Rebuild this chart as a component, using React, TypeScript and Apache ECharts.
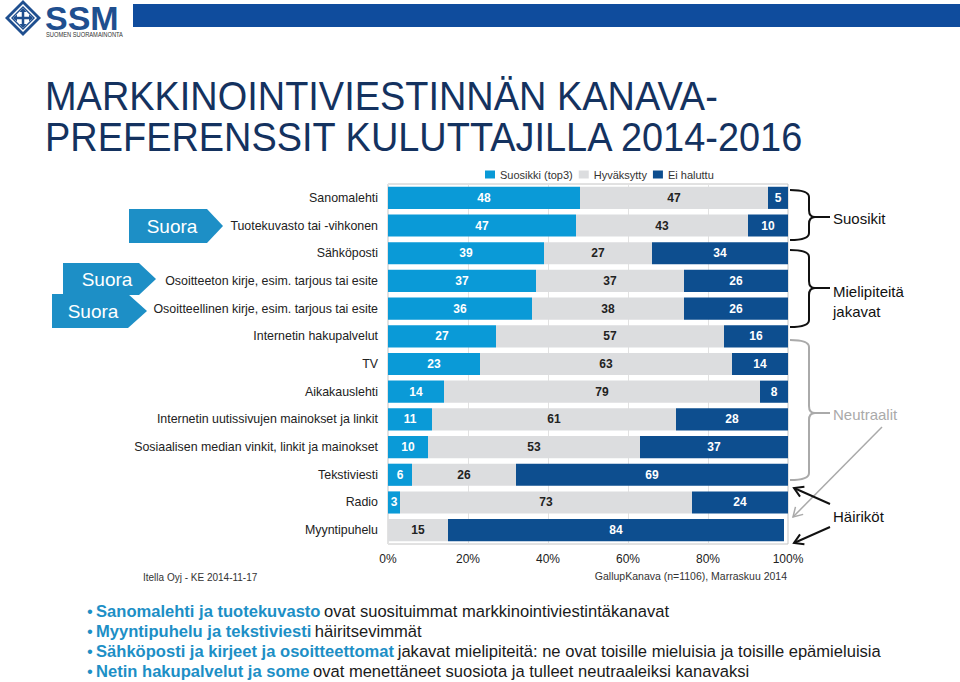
import React, { useEffect, useRef } from "react";
import * as echarts from "echarts";

const categories = [
  "Sanomalehti",
  "Tuotekuvasto tai -vihkonen",
  "Sähköposti",
  "Osoitteeton kirje, esim. tarjous tai esite",
  "Osoitteellinen kirje, esim. tarjous tai esite",
  "Internetin hakupalvelut",
  "TV",
  "Aikakauslehti",
  "Internetin uutissivujen mainokset ja linkit",
  "Sosiaalisen median vinkit, linkit ja mainokset",
  "Tekstiviesti",
  "Radio",
  "Myyntipuhelu",
];
const seriesNames = ["Suosikki (top3)", "Hyväksytty", "Ei haluttu"];
const suosikki = [48, 47, 39, 37, 36, 27, 23, 14, 11, 10, 6, 3, 0];
const hyvaksytty = [47, 43, 27, 37, 38, 57, 63, 79, 61, 53, 26, 73, 15];
const eiHaluttu = [5, 10, 34, 26, 26, 16, 14, 8, 28, 37, 69, 24, 84];
const xTicks = [0, 20, 40, 60, 80, 100];

const titleLines = ["MARKKINOINTIVIESTINNÄN KANAVA-", "PREFERENSSIT KULUTTAJILLA 2014-2016"];
const bullets = [
  ["Sanomalehti ja tuotekuvasto", "ovat suosituimmat markkinointiviestintäkanavat"],
  ["Myyntipuhelu ja tekstiviesti", "häiritsevimmät"],
  ["Sähköposti ja kirjeet ja osoitteettomat", "jakavat mielipiteitä: ne ovat toisille mieluisia ja toisille epämieluisia"],
  ["Netin hakupalvelut ja some", "ovat menettäneet suosiota ja tulleet neutraaleiksi kanavaksi"],
];

const FONT = "'Liberation Sans', Arial, sans-serif";
const C_FAV = "#0a9ad7";
const C_OK = "#dcdddf";
const C_NO = "#0d4e8f";
const C_SUORA = "#1d8fc6";
const C_LOGO = "#1f4f8f";

function brace(x0: number, xm: number, yTop: number, yMid: number, yBot: number, xEnd: number, color: string) {
  const s = { stroke: color, lineWidth: 2, fill: "none" };
  const r = 7;
  return [
    { type: "bezierCurve", shape: { x1: x0, y1: yTop, x2: xm, y2: yTop + r, cpx1: xm, cpy1: yTop }, style: s },
    { type: "line", shape: { x1: xm, y1: yTop + r, x2: xm, y2: yMid - r }, style: s },
    { type: "bezierCurve", shape: { x1: xm, y1: yMid - r, x2: xm + 6, y2: yMid, cpx1: xm, cpy1: yMid }, style: s },
    { type: "bezierCurve", shape: { x1: xm + 6, y1: yMid, x2: xm, y2: yMid + r, cpx1: xm, cpy1: yMid }, style: s },
    { type: "line", shape: { x1: xm, y1: yMid + r, x2: xm, y2: yBot - r }, style: s },
    { type: "bezierCurve", shape: { x1: xm, y1: yBot - r, x2: x0, y2: yBot, cpx1: xm, cpy1: yBot }, style: s },
    { type: "line", shape: { x1: xm + 6, y1: yMid, x2: xEnd, y2: yMid }, style: s },
  ];
}

function arrow(x1: number, y1: number, x2: number, y2: number, color: string, w: number) {
  const dx = x2 - x1, dy = y2 - y1;
  const len = Math.sqrt(dx * dx + dy * dy);
  const ux = dx / len, uy = dy / len;
  const px = -uy, py = ux;
  const s = 9;
  return [
    { type: "line", shape: { x1, y1, x2, y2 }, style: { stroke: color, lineWidth: w } },
    {
      type: "polyline",
      shape: {
        points: [
          [x2 - s * ux + s * 0.6 * px, y2 - s * uy + s * 0.6 * py],
          [x2, y2],
          [x2 - s * ux - s * 0.6 * px, y2 - s * uy - s * 0.6 * py],
        ],
      },
      style: { stroke: color, lineWidth: w, fill: "none" },
    },
  ];
}

function suora(xl: number, xf: number, xt: number, yt: number, yb: number, tx: number) {
  const ym = (yt + yb) / 2;
  return [
    {
      type: "polygon",
      shape: { points: [[xl, yt], [xf, yt], [xt, ym], [xf, yb], [xl, yb]] },
      style: { fill: C_SUORA },
    },
    {
      type: "text",
      x: tx,
      y: ym,
      style: { text: "Suora", fill: "#fff", font: `19px ${FONT}`, align: "center", verticalAlign: "middle" },
    },
  ];
}

function logo() {
  const cx = 23, cy = 18, R = 18;
  const dia = (r: number) => [[cx, cy - r], [cx + r, cy], [cx, cy + r], [cx - r, cy]];
  const els: any[] = [
    { type: "polygon", shape: { points: dia(R) }, style: { fill: C_LOGO } },
    { type: "polygon", shape: { points: dia(R - 4) }, style: { fill: "#fff" } },
    { type: "polygon", shape: { points: dia(R - 6) }, style: { fill: C_LOGO } },
    { type: "polygon", shape: { points: dia(R - 8) }, style: { fill: "#fff" } },
    { type: "line", shape: { x1: cx, y1: cy - 9, x2: cx, y2: cy + 9 }, style: { stroke: C_LOGO, lineWidth: 2.5 } },
    { type: "line", shape: { x1: cx - 9, y1: cy, x2: cx + 9, y2: cy }, style: { stroke: C_LOGO, lineWidth: 2.5 } },
    { type: "polygon", shape: { points: [[cx, cy - 10], [cx - 3.5, cy - 6], [cx + 3.5, cy - 6]] }, style: { fill: C_LOGO } },
    { type: "polygon", shape: { points: [[cx, cy + 10], [cx - 3.5, cy + 6], [cx + 3.5, cy + 6]] }, style: { fill: C_LOGO } },
    { type: "polygon", shape: { points: [[cx - 10, cy], [cx - 6, cy - 3.5], [cx - 6, cy + 3.5]] }, style: { fill: C_LOGO } },
    { type: "polygon", shape: { points: [[cx + 10, cy], [cx + 6, cy - 3.5], [cx + 6, cy + 3.5]] }, style: { fill: C_LOGO } },
    {
      type: "text",
      x: 45,
      y: 18,
      scaleX: 1.0,
      style: { text: "SSM", fill: C_LOGO, font: `bold 34px ${FONT}`, verticalAlign: "middle" },
    },
    {
      type: "text",
      x: 46,
      y: 34,
      scaleX: 0.82,
      style: { text: "SUOMEN SUORAMAINONTA", fill: "#333", font: `7px ${FONT}`, verticalAlign: "middle" },
    },
    { type: "rect", shape: { x: 133, y: 4, width: 827, height: 23 }, style: { fill: "#0f4c9d" } },
  ];
  return els;
}

export default function App() {
  const ref = useRef<HTMLDivElement>(null);
  useEffect(() => {
    if (!ref.current) return;
    const chart = echarts.init(ref.current, undefined, { renderer: "svg" });
    const labelFmt = (p: any) => (p.value > 0 ? String(p.value) : "");
    const mk = (name: string, data: number[], color: string, labelColor: string) => ({
      name,
      type: "bar",
      stack: "total",
      data,
      barWidth: "80%",
      itemStyle: { color },
      label: {
        show: true,
        position: "inside",
        formatter: labelFmt,
        color: labelColor,
        fontSize: 12,
        fontWeight: "bold",
        fontFamily: FONT,
      },
    });

    const graphics: any[] = [
      ...logo(),
      ...titleLines.map((t, i) => ({
        type: "text",
        x: 45,
        y: i === 0 ? 95 : 136,
        scaleX: 0.925,
        style: { text: t, fill: "#14325f", font: `41px ${FONT}`, verticalAlign: "middle" },
      })),
      ...suora(129, 207, 223, 209, 243, 172),
      ...suora(63, 139, 156, 263, 295, 107),
      ...suora(52, 128, 147, 294, 328, 93),
      ...brace(790, 809, 190, 217, 240, 830, "#111"),
      ...brace(790, 809, 250, 288, 327, 830, "#111"),
      ...brace(790, 809, 340, 413, 480, 830, "#aaa"),
      { type: "text", x: 833, y: 218, style: { text: "Suosikit", fill: "#111", font: `15px ${FONT}`, verticalAlign: "middle" } },
      { type: "text", x: 833, y: 291, style: { text: "Mielipiteitä", fill: "#111", font: `15px ${FONT}`, verticalAlign: "middle" } },
      { type: "text", x: 833, y: 311, style: { text: "jakavat", fill: "#111", font: `15px ${FONT}`, verticalAlign: "middle" } },
      { type: "text", x: 833, y: 414, style: { text: "Neutraalit", fill: "#aaa", font: `15px ${FONT}`, verticalAlign: "middle" } },
      { type: "text", x: 833, y: 516, style: { text: "Häiriköt", fill: "#111", font: `15px ${FONT}`, verticalAlign: "middle" } },
      ...arrow(882, 427, 793, 517, "#aaa", 1.5),
      ...arrow(830, 504, 794, 488, "#111", 2),
      ...arrow(830, 527, 794, 543, "#111", 2),
      { type: "text", x: 143, y: 577, style: { text: "Itella Oyj - KE 2014-11-17", fill: "#333", font: `10px ${FONT}`, verticalAlign: "middle" } },
      {
        type: "text",
        x: 787,
        y: 576,
        style: { text: "GallupKanava (n=1106), Marraskuu 2014", fill: "#333", font: `10.5px ${FONT}`, align: "right", verticalAlign: "middle" },
      },
      ...bullets.map((b, i) => ({
        type: "text",
        x: 87,
        y: 611 + i * 20,
        scaleX: 0.975,
        style: {
          text: `{d|•} {b|${b[0]}} {n|${b[1]}}`,
          verticalAlign: "middle",
          rich: {
            d: { fill: C_SUORA, font: `17px ${FONT}` },
            b: { fill: C_SUORA, font: `bold 17px ${FONT}` },
            n: { fill: "#1a1a1a", font: `17px ${FONT}` },
          },
        },
      })),
    ];

    chart.setOption({
      animation: false,
      textStyle: { fontFamily: FONT },
      legend: {
        left: 480,
        top: 164,
        itemWidth: 10,
        itemHeight: 8,
        itemGap: 6,
        textStyle: { fontSize: 11, color: "#333", fontFamily: FONT },
        data: seriesNames.map((n) => ({ name: n, icon: "rect" })),
      },
      grid: { left: 388, right: 172, top: 184, bottom: 138, show: true, borderColor: "#c4c4c4", borderWidth: 1 },
      xAxis: {
        type: "value",
        min: 0,
        max: 100,
        interval: 20,
        axisLabel: {
          formatter: (v: number) => (xTicks.includes(v) ? `${v}%` : ""),
          fontSize: 12,
          color: "#222",
          margin: 9,
          fontFamily: FONT,
        },
        axisLine: { show: false },
        axisTick: { show: false },
        splitLine: { show: true, lineStyle: { color: "#e2e2e2" } },
      },
      yAxis: {
        type: "category",
        inverse: true,
        data: categories,
        axisLine: { show: false },
        axisTick: { show: false },
        axisLabel: { fontSize: 12.4, color: "#222", margin: 10, fontFamily: FONT },
      },
      series: [
        mk(seriesNames[0], suosikki, C_FAV, "#fff"),
        mk(seriesNames[1], hyvaksytty, C_OK, "#222"),
        mk(seriesNames[2], eiHaluttu, C_NO, "#fff"),
      ],
      graphic: graphics,
    });
    return () => chart.dispose();
  }, []);
  return <div ref={ref} style={{ position: "fixed", left: 0, top: 0, width: 960, height: 682, background: "#fff" }} />;
}
